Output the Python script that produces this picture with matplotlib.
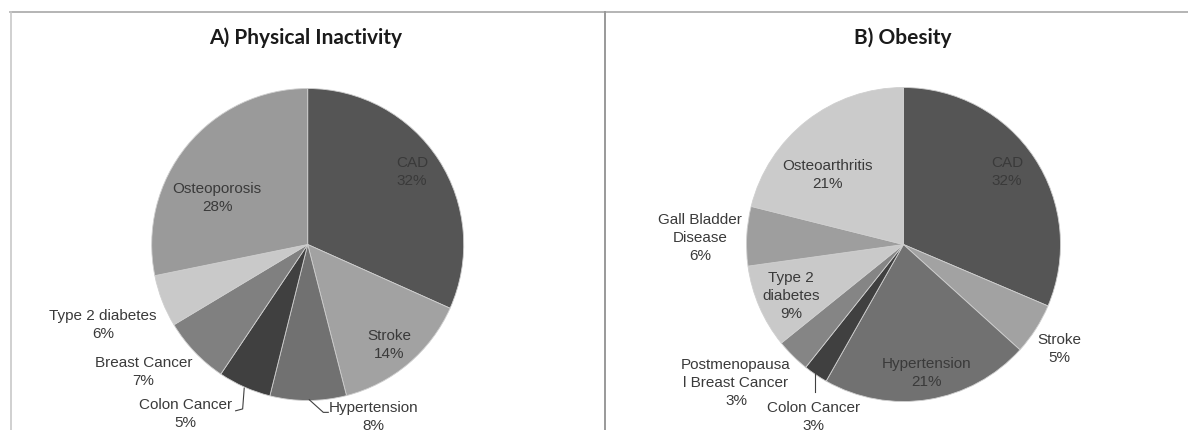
import matplotlib.pyplot as plt
from matplotlib.lines import Line2D

# A) physical inactivity
a_names = ['CAD', 'Stroke', 'Hypertension', 'Colon Cancer', 'Breast Cancer',
           'Type 2 diabetes', 'Osteoporosis']
a_vals = [31.7, 14.3, 7.9, 5.5, 7.0, 5.4, 28.2]
a_pct = ['32%', '14%', '8%', '5%', '7%', '6%', '28%']
a_cols = ['#555555', '#a2a2a2', '#717171', '#404040', '#808080', '#c9c9c9', '#9a9a9a']

# B) obesity
b_names = ['CAD', 'Stroke', 'Hypertension', 'Colon Cancer',
           'Postmenopausa\nl Breast Cancer', 'Type 2\ndiabetes',
           'Gall Bladder\nDisease', 'Osteoarthritis']
b_vals = [31.4, 5.3, 21.5, 2.5, 3.5, 8.6, 6.1, 21.1]
b_pct = ['32%', '5%', '21%', '3%', '3%', '9%', '6%', '21%']
b_cols = ['#555555', '#a2a2a2', '#717171', '#404040', '#858585', '#c9c9c9', '#9e9e9e', '#cbcbcb']

# label spots in pie units (radius = 1)
a_pos = [(0.669, 0.471), (0.521, -0.638), (0.419, -1.099), (-0.783, -1.080),
         (-1.053, -0.811), (-1.312, -0.510), (-0.581, 0.304)]
b_pos = [(0.659, 0.468), (0.990, -0.659), (0.147, -0.812), (-0.576, -1.092),
         (-1.067, -0.876), (-0.717, -0.322), (-1.296, 0.048), (-0.487, 0.449)]

W, H = 1188, 431
fig = plt.figure(figsize=(W / 100, H / 100), dpi=100)
fig.patch.set_facecolor('white')

lab_font = dict(family=['Liberation Sans', 'DejaVu Sans'], fontsize=11, color='#3a3a3a',
                ha='center', va='center', linespacing=1.33)


def make_pie(cx, cy, r, vals, cols, names, pct, pos):
    ax = fig.add_axes([(cx - r) / W, (H - cy - r) / H, 2 * r / W, 2 * r / H])
    ax.pie(vals, colors=cols, startangle=90, counterclock=False,
           wedgeprops=dict(edgecolor='#cfcfcf', linewidth=0.6))
    ax.set_xlim(-1, 1)
    ax.set_ylim(-1, 1)
    ax.set_aspect('auto')
    for n, p, (x, y) in zip(names, pct, pos):
        ax.text(x, y, n + '\n' + p, clip_on=False, **lab_font)
    return ax


ax1 = make_pie(307.7, 245.5, 156, a_vals, a_cols, a_names, a_pct, a_pos)
ax2 = make_pie(903.5, 245.5, 157, b_vals, b_cols, b_names, b_pct, b_pos)

# leader lines
ax1.plot([-0.407, -0.417, -0.462], [-0.921, -1.054, -1.066], color='#404040', lw=0.8, clip_on=False)
ax1.plot([0.010, 0.100, 0.132], [-0.995, -1.076, -1.076], color='#404040', lw=0.8, clip_on=False)
ax2.plot([-0.564, -0.564], [-0.772, -0.939], color='#404040', lw=0.8, clip_on=False)

# titles
tfont = dict(family=['Lato', 'DejaVu Sans'], fontweight='bold', fontsize=15, color='#1a1a1a',
             ha='center', va='center')
fig.text(306 / W, 1 - 38 / H, 'A) Physical Inactivity', **tfont)
fig.text(903 / W, 1 - 38 / H, 'B) Obesity', **tfont)

# frame lines
fig.add_artist(Line2D([10 / W, 1], [1 - 13 / H] * 2, color='#a8a8a8', lw=1.2))
fig.add_artist(Line2D([11 / W] * 2, [0, 1 - 13 / H], color='#c8c8c8', lw=1.2))
fig.add_artist(Line2D([605 / W] * 2, [0, 1 - 13 / H], color='#999999', lw=1.4))

fig.savefig('out.png', dpi=100)
